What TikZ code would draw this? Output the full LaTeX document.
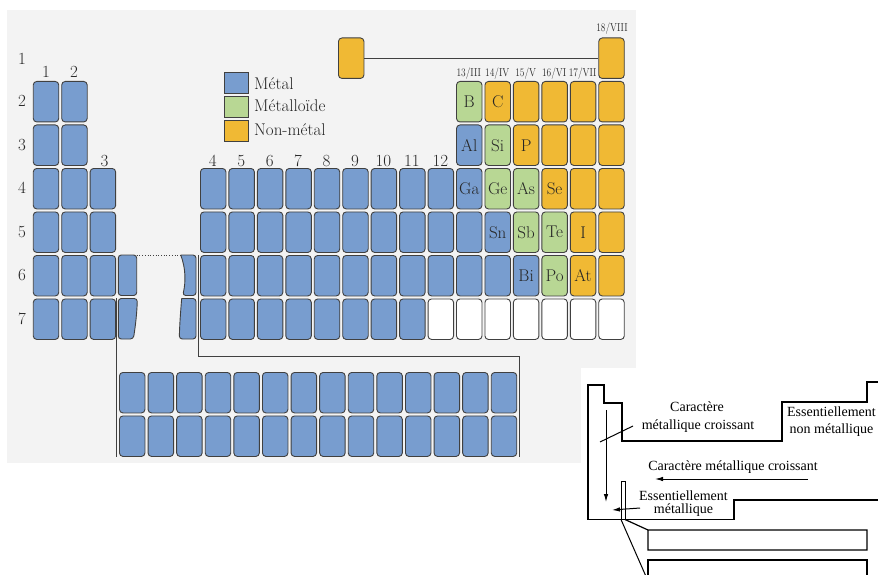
\documentclass[tikz,border=0pt]{standalone}
\usepackage{graphicx}
\usepackage{fontspec}
\newfontfamily\schfont{Liberation Serif}
\usetikzlibrary{arrows.meta}
\definecolor{metblue}{RGB}{120,157,207}
\definecolor{mldgreen}{RGB}{184,215,148}
\definecolor{nmorange}{RGB}{240,185,52}
\definecolor{cellline}{RGB}{64,64,64}
\definecolor{scanbg}{RGB}{243,243,243}
\definecolor{scantext}{RGB}{38,38,38}
\newcommand\narrowtxt[1]{\scalebox{0.82}[1]{#1}}
\begin{document}
\begin{tikzpicture}[x=1pt,y=-1pt,
  cell/.style={draw=cellline, line width=0.9pt, rounded corners=3.5pt,
    minimum width=25.5pt, minimum height=40.5pt, inner sep=0pt,
    anchor=north west, text=scantext, font=\fontsize{17}{19}\selectfont},
  met/.style={fill=metblue},
  mld/.style={fill=mldgreen},
  nmet/.style={fill=nmorange},
  void/.style={fill=white},
  partcell/.style={draw=cellline, line width=0.9pt, rounded corners=3pt, fill=metblue},
  lbl/.style={inner sep=0pt, text=scantext, font=\fontsize{17}{19}\selectfont},
  grp/.style={inner sep=0pt, text=scantext, font=\fontsize{11.5}{12}\selectfont},
  legsq/.style={draw=cellline, line width=0.9pt, minimum width=24pt, minimum height=21pt,
    inner sep=0pt, anchor=north west},
  legtxt/.style={inner sep=0pt, anchor=base west, text=scantext, font=\fontsize{17}{19}\selectfont},
  bracket/.style={draw=cellline, line width=0.8pt},
  sch/.style={draw=black, line width=1.2pt, line join=miter},
  schthin/.style={draw=black, line width=1pt},
  schtxt/.style={inner sep=0pt, anchor=base, text=black, font=\schfont\fontsize{14}{16}\selectfont},
  arr/.style={schthin, -{Latex[length=8pt,width=4.5pt]}}
]
\useasboundingbox (0,0) rectangle (878,575);
\clip (0,0) rectangle (878,575);
\fill[white] (0,0) rectangle (878,575);
% scanned page background
\fill[scanbg] (7,10) rectangle (636,463);

% ---------- s-block ----------
\foreach \g/\x in {1/32.8,2/61.25}{
  \foreach \r in {2,...,7}{
    \pgfmathsetmacro\yy{81+(\r-2)*43.5}
    \node[cell,met] (c\r-\g) at (\x,\yy) {};
  }
}
\foreach \r in {4,...,7}{
  \pgfmathsetmacro\yy{81+(\r-2)*43.5}
  \node[cell,met] (c\r-3) at (89.7,\yy) {};
}
% ---------- d-block ----------
\foreach \r in {4,5,6}{
  \foreach \g in {4,...,12}{
    \pgfmathsetmacro\xx{200+(\g-4)*28.45}
    \pgfmathsetmacro\yy{81+(\r-2)*43.5}
    \node[cell,met] (c\r-\g) at (\xx,\yy) {};
  }
}
\foreach \g in {4,...,11}{
  \pgfmathsetmacro\xx{200+(\g-4)*28.45}
  \node[cell,met] (c7-\g) at (\xx,298.5) {};
}
\foreach \g in {12,...,18}{
  \pgfmathsetmacro\xx{200+(\g-4)*28.45}
  \node[cell,void] (c7-\g) at (\xx,298.5) {};
}
% ---------- p-block ----------
\foreach \r/\g/\s/\t in {
  2/13/mld/B, 2/14/nmet/C, 2/15/nmet/{}, 2/16/nmet/{}, 2/17/nmet/{}, 2/18/nmet/{},
  3/13/met/Al, 3/14/mld/Si, 3/15/nmet/P, 3/16/nmet/{}, 3/17/nmet/{}, 3/18/nmet/{},
  4/13/met/Ga, 4/14/mld/Ge, 4/15/mld/As, 4/16/nmet/Se, 4/17/nmet/{}, 4/18/nmet/{},
  5/13/met/{}, 5/14/met/Sn, 5/15/mld/Sb, 5/16/mld/Te, 5/17/nmet/I, 5/18/nmet/{},
  6/13/met/{}, 6/14/met/{}, 6/15/met/Bi, 6/16/mld/Po, 6/17/nmet/At, 6/18/nmet/{}}{
  \pgfmathsetmacro\xx{200+(\g-4)*28.45}
  \pgfmathsetmacro\yy{81+(\r-2)*43.5}
  \node[cell,\s] (c\r-\g) at (\xx,\yy) {\t};
}
% ---------- H and He ----------
\node[cell,nmet] (H) at (338,37.5) {};
\node[cell,nmet] (He) at (598.3,37.5) {};
\draw[bracket] (H.east) -- (He.west);

% ---------- broken f-block column ----------
\draw[partcell] (118.3,255) -- (136.7,255) -- (136.7,295.5) -- (118.3,295.5) -- cycle;
\draw[partcell] (118.3,298.5) -- (137.3,298.5) .. controls (137,312) and (135.5,326) .. (133.3,339) -- (118.3,339) -- cycle;
\draw[partcell] (180.7,255) -- (196,255) -- (196,295.5) -- (182.7,295.5) .. controls (185.8,282) and (185.8,268) .. (180.7,255);
\draw[partcell] (181.7,298.5) -- (196,298.5) -- (196,339) -- (179.3,339) .. controls (179.6,325) and (180.6,311) .. (181.7,298.5);
\draw[cellline, line width=0.7pt, dotted] (136.7,255.5) -- (180.7,255.5);

% ---------- lanthanides / actinides ----------
\foreach \i in {0,...,13}{
  \node[cell,met] (la\i) at ({119+\i*28.6},372) {};
  \node[cell,met] (ac\i) at ({119+\i*28.6},415.5) {};
}
\coordinate (bl1) at (116.5,298);
\coordinate (bl2) at (116.5,457);
\draw[bracket] (bl1) -- (bl2);
\coordinate (br1) at (198,255);
\coordinate (br2) at (198,356);
\coordinate (br3) at (519,356);
\coordinate (br4) at (519,457);
\draw[bracket] (br1) -- (br2) -- (br3) -- (br4);

% ---------- labels ----------
\foreach \r/\yy in {1/58.5,2/101.25,3/144.75,4/188.25,5/231.75,6/275.25,7/318.75}{
  \node[lbl] (per\r) at (22,\yy) {\r};
}
\node[lbl] (gr1) at (46,71.5) {1};
\node[lbl] (gr2) at (74,71.5) {2};
\node[lbl] (gr3) at (104.5,161) {3};
\foreach \g in {4,...,12}{
  \pgfmathsetmacro\xx{200+(\g-4)*28.45+12.75}
  \node[lbl] (gr\g) at (\xx,161) {\g};
}
\node[grp] (gr13) at (468.8,73.3) {\narrowtxt{13/III}};
\node[grp] (gr14) at (497.25,73.3) {\narrowtxt{14/IV}};
\node[grp] (gr15) at (525.7,73.3) {\narrowtxt{15/V}};
\node[grp] (gr16) at (554.15,73.3) {\narrowtxt{16/VI}};
\node[grp] (gr17) at (582.6,73.3) {\narrowtxt{17/VII}};
\node[grp] (gr18) at (612,29) {\narrowtxt{18/VIII}};

% ---------- legend ----------
\node[legsq,met] (lgm) at (224,72) {};
\node[legsq,mld] (lgd) at (224,96.5) {};
\node[legsq,nmet] (lgn) at (224,120) {};
\node[legtxt] (lgmt) at (254,89.3) {Métal};
\node[legtxt] (lgdt) at (254,112) {Métalloïde};
\node[legtxt] (lgnt) at (254,135.3) {Non-métal};

% ---------- schematic ----------
\fill[white] (581,368) rectangle (878,575);
\draw[sch] (885,382) -- (867,382) -- (867,402) -- (782,402) -- (782,441) -- (622,441)
  -- (622,403) -- (604,403) -- (604,385) -- (588,385) -- (588,519.5) -- (734,519.5)
  -- (734,500) -- (885,500);
\draw[schthin] (621,519.5) -- (621,481) -- (625,481) -- (625,519.5);
\draw[sch] (625,519.5) -- (648,530) -- (867,530) -- (867,550) -- (648,550) -- (648,530);
\draw[schthin] (621,519.5) -- (648,581);
\draw[sch] (648,585) -- (648,560) -- (867,560) -- (867,585);

\node[schtxt] (t1a) at (697,411) {Caractère};
\node[schtxt] (t1b) at (698,429) {métallique croissant};
\node[schtxt] (t2) at (733,470.5) {Caractère métallique croissant};
\node[schtxt] (t3a) at (683.5,500.5) {Essentiellement};
\node[schtxt] (t3b) at (683.5,513) {métallique};
\node[schtxt] (t4a) at (831.5,416.7) {Essentiellement};
\node[schtxt] (t4b) at (831.5,433) {non métallique};

\coordinate (va1) at (606,410);
\coordinate (va2) at (606,502);
\draw[arr] (va1) -- (va2);
\coordinate (ld1) at (633,426);
\coordinate (ld2) at (600,442);
\draw[schthin] (ld1) -- (ld2);
\coordinate (ha1) at (808,479);
\coordinate (ha2) at (655,479);
\draw[arr] (ha1) -- (ha2);
\coordinate (sa1) at (640,508);
\coordinate (sa2) at (612,510);
\draw[arr] (sa1) -- (sa2);
\end{tikzpicture}
\end{document}
